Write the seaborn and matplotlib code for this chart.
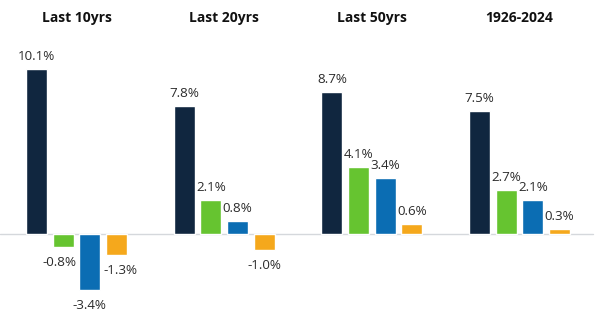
import matplotlib
matplotlib.use("Agg")
import matplotlib.pyplot as plt
import seaborn as sns
import pandas as pd

periods = ["Last 10yrs", "Last 20yrs", "Last 50yrs", "1926-2024"]
series = ["Series 1", "Series 2", "Series 3", "Series 4"]
values = {
    "Series 1": [10.1, 7.8, 8.7, 7.5],
    "Series 2": [-0.8, 2.1, 4.1, 2.7],
    "Series 3": [-3.4, 0.8, 3.4, 2.1],
    "Series 4": [-1.3, -1.0, 0.6, 0.3],
}
colors = ["#10263f", "#66c430", "#0b6db3", "#f5a81c"]

rows = []
for s in series:
    for p, v in zip(periods, values[s]):
        rows.append({"period": p, "series": s, "value": v})
df = pd.DataFrame(rows)

sns.set_style("white")
plt.rcParams["font.family"] = ["Open Sans", "DejaVu Sans"]

fig = plt.figure(figsize=(6.02, 3.20), dpi=100)
ax = fig.add_axes([0, 0, 1, 1])

sns.barplot(data=df, x="period", y="value", hue="series", order=periods,
            hue_order=series, palette=colors, width=0.723, gap=0.21,
            legend=False, ax=ax, saturation=1)

px_per_unit = 16.35
zero_px = 234
ax.set_ylim(-(320 - zero_px) / px_per_unit, zero_px / px_per_unit)
unit_x = 147.7
ax.set_xlim(-76.5 / unit_x, (602 - 76.5) / unit_x)
ax.axhline(0, xmin=0, xmax=593 / 602, color="#d5d8dc", lw=1, zorder=0)
ax.set_axis_off()

# small horizontal nudges (pixels) for crowded labels: (series index, period index)
nudge = {(1, 0): -4, (3, 0): 4}

for si, cont in enumerate(ax.containers):
    for pi, bar in enumerate(cont):
        v = bar.get_height()
        cx = bar.get_x() + bar.get_width() / 2
        dx = nudge.get((si, pi), 0)
        if v >= 0:
            ax.annotate(f"{v:.1f}%", (cx, v), xytext=(dx, 9), textcoords="offset pixels",
                        ha="center", va="baseline", fontsize=9.6, color="#2b2b2b")
        else:
            ax.annotate(f"{v:.1f}%", (cx, v), xytext=(dx, -9), textcoords="offset pixels",
                        ha="center", va="top", fontsize=9.6, color="#2b2b2b")

title_y = (zero_px - 18) / px_per_unit
for i, p in enumerate(periods):
    ax.text(i, title_y, p, ha="center", va="center", fontsize=10,
            fontweight="bold", color="#111111")

fig.savefig("out.png", dpi=100)
